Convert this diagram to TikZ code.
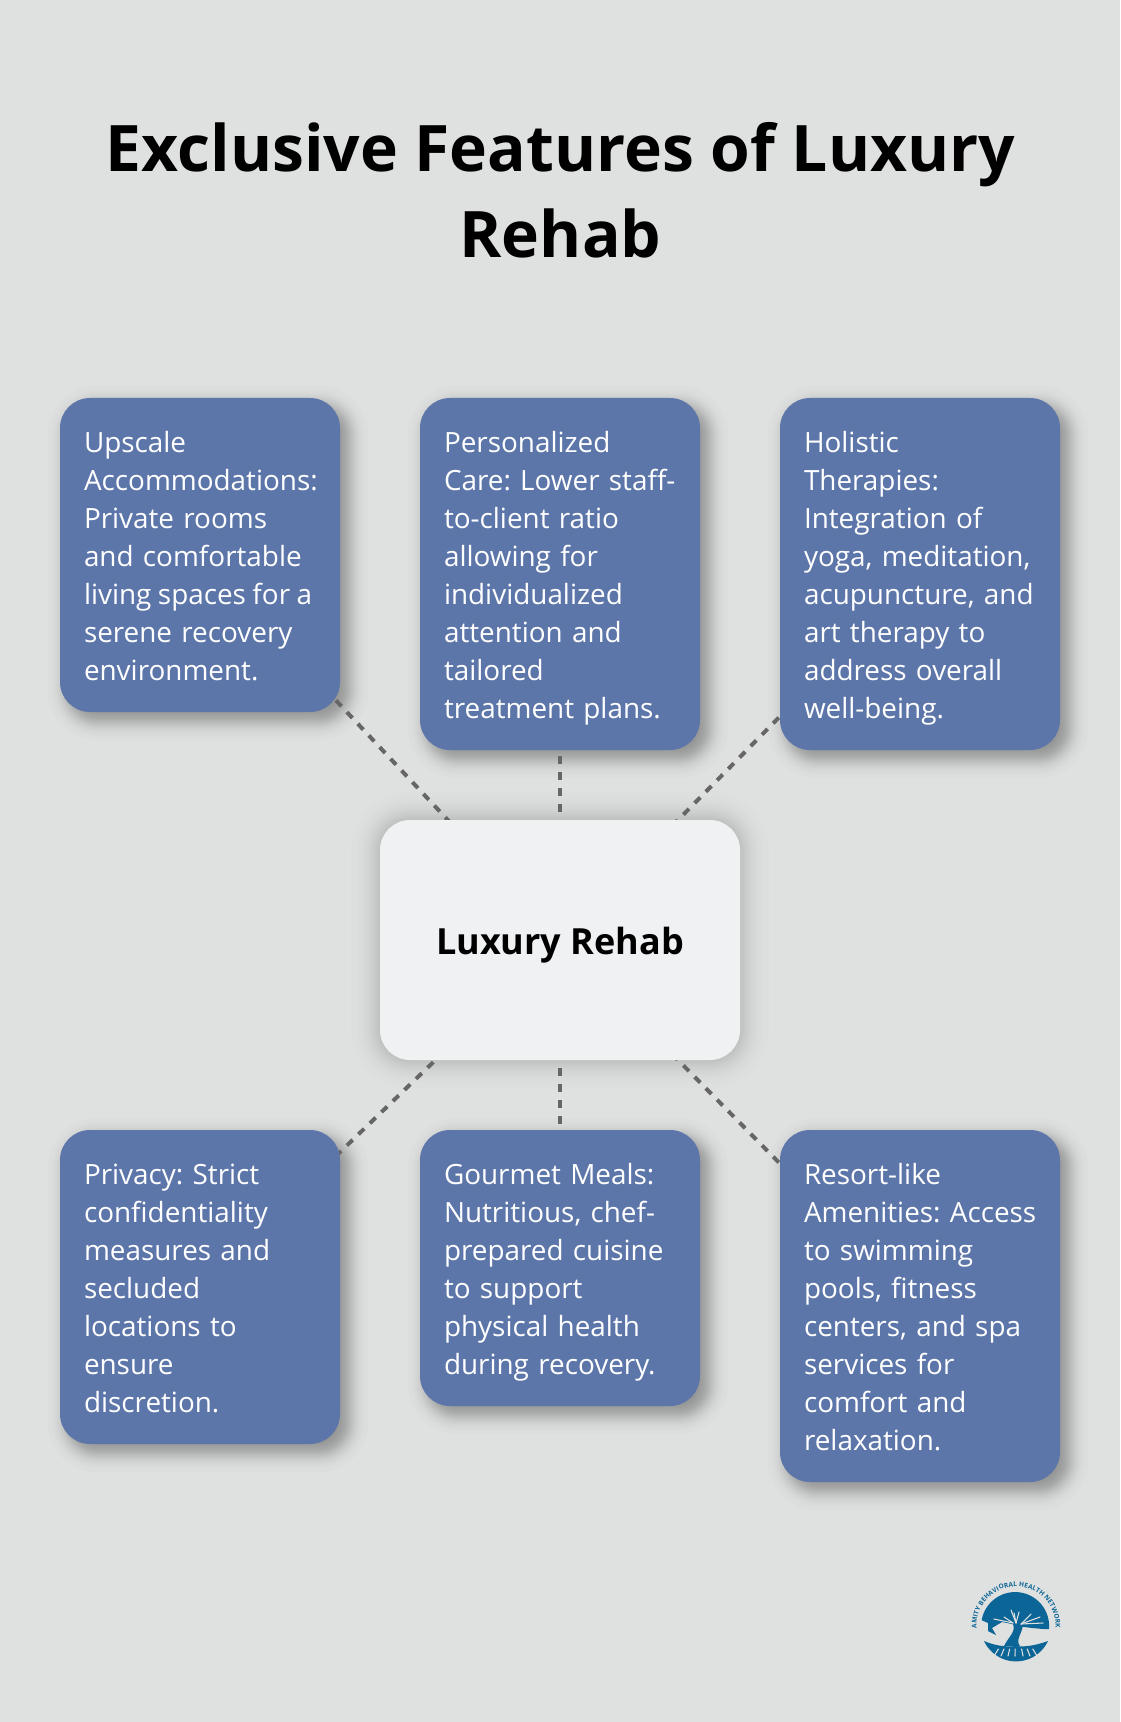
\documentclass[tikz,border=0pt]{standalone}
\usepackage{fontspec}
\setmainfont{Open Sans}
\usepackage{tikz}
\usetikzlibrary{positioning,backgrounds,decorations.text}
\definecolor{mybg}{RGB}{223, 225, 224}
\definecolor{myblue}{RGB}{93, 118, 169}
\definecolor{mywhite}{RGB}{240, 241, 243}
\definecolor{mydash}{RGB}{102, 102, 102}
\definecolor{mylogo}{RGB}{11, 101, 150}
\tikzstyle{title}=[align=center,font=\fontsize{48.1}{64.5}\selectfont\bfseries]
\tikzstyle{feature}=[fill=myblue,text=white,rounded corners=22.5pt,inner sep=18pt,outer sep=0pt,text width=174pt,align=left,font=\fontsize{20.9}{28.5}\selectfont\frenchspacing]
\tikzstyle{hub}=[fill=mywhite,rounded corners=22.5pt,minimum width=270pt,minimum height=180pt,outer sep=0pt,text height=29pt,text depth=7pt,font=\fontsize{27}{36}\selectfont\bfseries]
\tikzstyle{spoke}=[draw=mydash,line width=3pt,dash pattern=on 6pt off 6pt]
\tikzstyle{twig}=[draw=mybg,line width=.8pt,line cap=round]
\newcommand{\ls}[1]{\makebox[174pt][l]{\rule[-6pt]{0pt}{28.5pt}#1}}
% gaussian steps for the blur of a shadow
\newcommand{\softshadow}[5]{\foreach \z [evaluate=\z as \s using \z*#4,evaluate=\z as \rad using (30+\z*#4)*.75] in {-2.15,-1.67,-1.42,-1.23,-1.08,-.95,-.83,-.73,-.63,-.53,-.45,-.36,-.28,-.20,-.12,-.04,.04,.12,.20,.28,.36,.45,.53,.63,.73,.83,.95,1.08,1.23,1.42,1.67,2.15}
  \fill[black,opacity=#5,rounded corners=\rad pt] ([shift={(#2-\s,#3-\s)}]#1.north west) rectangle ([shift={(#2+\s,#3+\s)}]#1.south east);}

\begin{document}
\begin{tikzpicture}[x=.75pt,y=-.75pt]
  \useasboundingbox (0,0) rectangle (1120,1722);

  \node (heading) [title] at (560.5,190) {Exclusive Features of Luxury\\Rehab};
  \node (lux) [hub] at (560,940) {Luxury Rehab};

  \node (upscale) [feature,anchor=north west] at (60,398) {\ls{Upscale}\\\ls{Accommodations:}\\\ls{Private rooms}\\\ls{and comfortable}\\\ls{\spaceskip=4.85pt living spaces for a}\\\ls{serene recovery}\\\ls{environment.}};
  \node (care) [feature,right=60pt of upscale.north east,anchor=north west] {\ls{Personalized}\\\ls{Care: Lower staff-}\\\ls{to-client ratio}\\\ls{allowing for}\\\ls{individualized}\\\ls{attention and}\\\ls{tailored}\\\ls{treatment plans.}};
  \node (holistic) [feature,right=60pt of care.north east,anchor=north west] {\ls{Holistic}\\\ls{Therapies:}\\\ls{Integration of}\\\ls{yoga, meditation,}\\\ls{acupuncture, and}\\\ls{art therapy to}\\\ls{address overall}\\\ls{well-being.}};

  \node (privacy) [feature,anchor=north west] at (60,1130) {\ls{Privacy: Strict}\\\ls{confidentiality}\\\ls{measures and}\\\ls{secluded}\\\ls{locations to}\\\ls{ensure}\\\ls{discretion.}};
  \node (meals) [feature,right=60pt of privacy.north east,anchor=north west] {\ls{Gourmet Meals:}\\\ls{Nutritious, chef-}\\\ls{prepared cuisine}\\\ls{to support}\\\ls{physical health}\\\ls{during recovery.}};
  \node (resort) [feature,right=60pt of meals.north east,anchor=north west] {\ls{Resort-like}\\\ls{Amenities: Access}\\\ls{to swimming}\\\ls{pools, fitness}\\\ls{centers, and spa}\\\ls{services for}\\\ls{comfort and}\\\ls{relaxation.}};

  \begin{scope}[on background layer]
    \fill[mybg] (0,0) rectangle (1120,1722);
    \softshadow{lux}{0}{0}{13.5}{.0075}
    \foreach \n in {upscale,care,holistic,privacy,meals,resort} {\softshadow{\n}{8}{8}{9.5}{.01}}
    \foreach \n in {upscale,care,holistic,privacy,meals,resort} {\draw[spoke] (lux.center) -- (\n.center);}
  \end{scope}

  % logo
  \begin{scope}[shift={(1016,1626)},y=.75pt]
    \fill[mylogo] (33,-3) arc[start angle=-5,end angle=170,radius=34] -- (-28,3) -- (-28,-5) -- (-20,-9) -- (-24,-2) -- (-14,4) -- (-4,2) -- (8,-1) -- (16,-2) -- (27,-3) -- cycle;
    \fill[mylogo] (-3,2) .. controls (0,-6) and (-7,-10) .. (-12,-20) -- (4,-20) .. controls (-1,-14) and (6,-8) .. (7,1) -- cycle;
    \fill[mylogo] (-32,-15) arc[start angle=205,end angle=335,radius=35.3] .. controls (18,-20) and (8,-21) .. (0,-20) .. controls (-10,-21) and (-20,-20) .. cycle;
    \foreach \a/\b in {-5/16,-2/13,3/14} {\draw[twig] (0,3) -- (\a,\b);}
    \foreach \a/\b in {27/3,24/9,15/12} {\draw[twig] (5,2) -- (\a,\b);}
    \foreach \a/\b in {-22/7,-12/9} {\draw[twig] (-3,3) -- (\a,\b);}
    \foreach \a in {-22,-15,-8,-1,7,14,21} {\draw[twig] (\a*.8,-23) -- (\a,-30);}
    \path[decorate,decoration={text along path,text align=fit to path,text={|\fontsize{4.9}{6}\selectfont\bfseries\color{mylogo}|AMITY BEHAVIORAL HEALTH NETWORK}}] (183:39.5) arc[start angle=183,end angle=-3,radius=39.5];
  \end{scope}
\end{tikzpicture}
\end{document}
